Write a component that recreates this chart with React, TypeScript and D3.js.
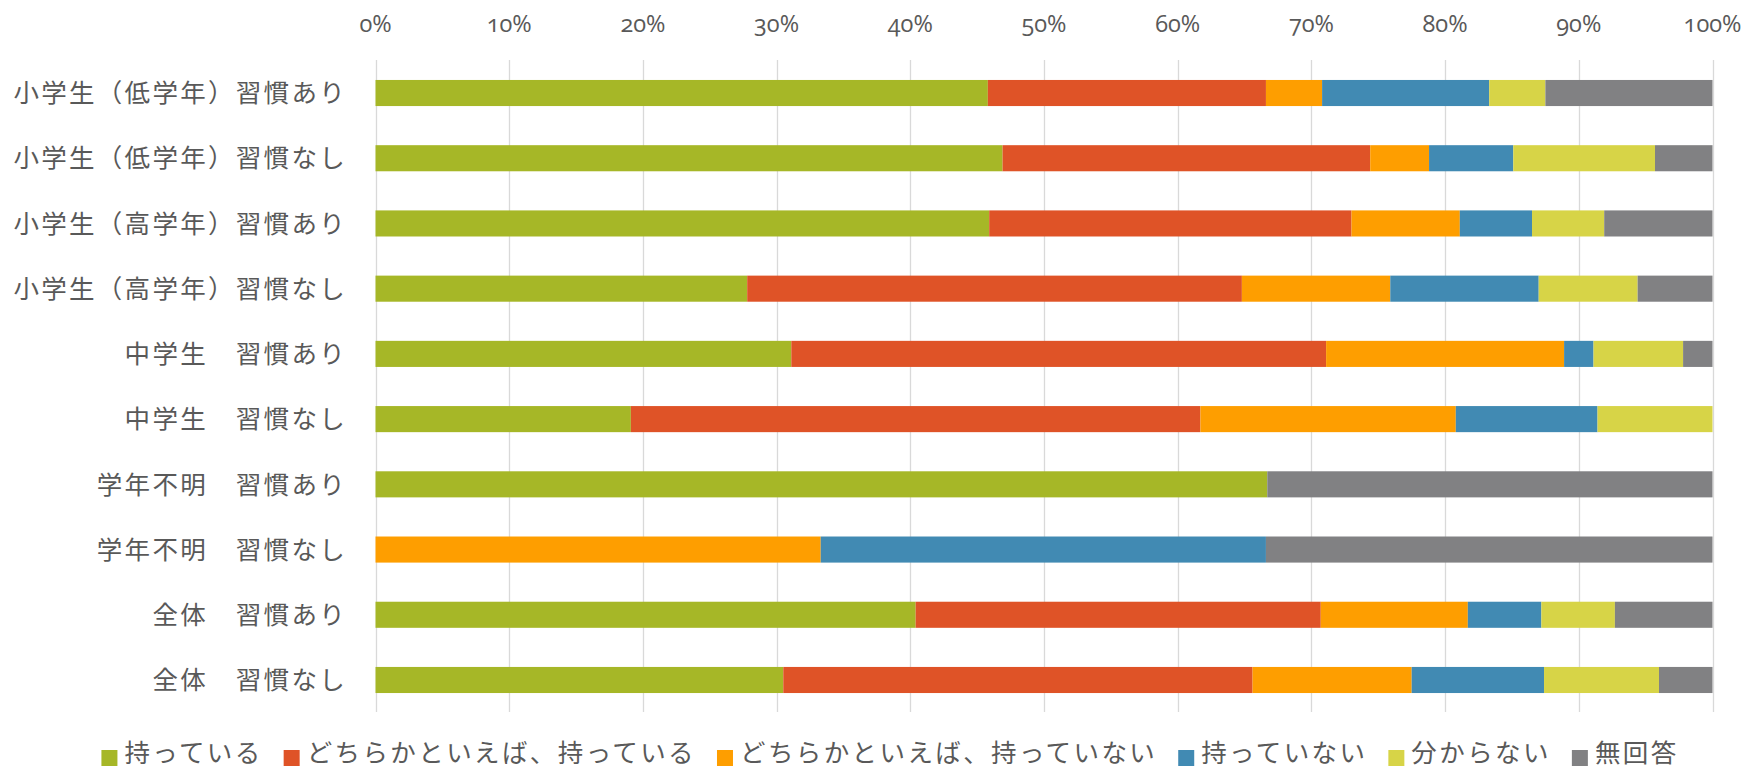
import React, { useEffect, useRef } from "react";
import * as d3 from "d3";

const categories = [
  "小学生（低学年）習慣あり",
  "小学生（低学年）習慣なし",
  "小学生（高学年）習慣あり",
  "小学生（高学年）習慣なし",
  "中学生　習慣あり",
  "中学生　習慣なし",
  "学年不明　習慣あり",
  "学年不明　習慣なし",
  "全体　習慣あり",
  "全体　習慣なし",
];

const seriesNames = [
  "持っている",
  "どちらかといえば、持っている",
  "どちらかといえば、持っていない",
  "持っていない",
  "分からない",
  "無回答",
];

const motteiru = [45.8, 46.9, 45.9, 27.8, 31.1, 19.1, 66.7, 0, 40.4, 30.5];
const dochiraMotteiru = [20.8, 27.5, 27.1, 37.0, 40.0, 42.6, 0, 0, 30.3, 35.1];
const dochiraMotteinai = [4.2, 4.4, 8.1, 11.1, 17.8, 19.1, 0, 33.3, 11.0, 11.9];
const motteinai = [12.5, 6.3, 5.4, 11.1, 2.2, 10.6, 0, 33.3, 5.5, 9.9];
const wakaranai = [4.2, 10.6, 5.4, 7.4, 6.7, 8.6, 0, 0, 5.5, 8.6];
const mukaitou = [12.5, 4.3, 8.1, 5.6, 2.2, 0, 33.3, 33.4, 7.3, 4.0];

const seriesValues = [motteiru, dochiraMotteiru, dochiraMotteinai, motteinai, wakaranai, mukaitou];
const colors = ["#A6B727", "#DF5327", "#FE9E00", "#418AB3", "#D7D447", "#818183"];
const tickValues = [0, 10, 20, 30, 40, 50, 60, 70, 80, 90, 100];

const W = 1746;
const H = 771;
const JP = "'Noto Sans CJK JP', 'Noto Sans', sans-serif";
const TXT = "#595959";

export default function App() {
  const ref = useRef<SVGSVGElement | null>(null);

  useEffect(() => {
    const svg = d3.select(ref.current);
    svg.selectAll("*").remove();

    const x = d3.scaleLinear().domain([0, 100]).range([375.5, 1712.5]);
    const y = d3
      .scaleBand<string>()
      .domain(categories)
      .range([60.4, 712.6])
      .paddingInner(0.6)
      .paddingOuter(0.3);

    const rows = categories.map((c, i) => {
      const o: any = { cat: c };
      seriesNames.forEach((s, j) => (o[s] = seriesValues[j][i]));
      return o;
    });
    const stacked = d3.stack<any>().keys(seriesNames)(rows);

    // gridlines
    svg
      .append("g")
      .selectAll("line")
      .data(tickValues)
      .join("line")
      .attr("x1", (d) => Math.round(x(d)) + 0.5)
      .attr("x2", (d) => Math.round(x(d)) + 0.5)
      .attr("y1", 60)
      .attr("y2", 712)
      .attr("stroke", "#D9D9D9")
      .attr("stroke-width", 1.3);

    // tick labels (top)
    svg
      .append("g")
      .selectAll("text")
      .data(tickValues)
      .join("text")
      .attr("x", (d) => x(d))
      .attr("y", 32)
      .attr("text-anchor", "middle")
      .attr("fill", TXT)
      .style("font-family", "'Open Sans', sans-serif")
      .style("font-size", "23.5px")
      .style("font-variant-numeric", "oldstyle-nums")
      .text((d) => `${d}%`);

    // bars
    svg
      .append("g")
      .selectAll("g")
      .data(stacked)
      .join("g")
      .attr("fill", (_d, i) => colors[i])
      .selectAll("rect")
      .data((d) => d)
      .join("rect")
      .attr("x", (d) => x(d[0]))
      .attr("width", (d) => Math.max(0, x(d[1]) - x(d[0])))
      .attr("y", (d) => y(d.data.cat)!)
      .attr("height", y.bandwidth());

    // category labels
    svg
      .append("g")
      .selectAll("text")
      .data(categories)
      .join("text")
      .attr("x", 347)
      .attr("y", (d) => y(d)! + y.bandwidth() / 2)
      .attr("dy", "0.36em")
      .attr("text-anchor", "end")
      .attr("fill", TXT)
      .style("font-family", JP)
      .style("font-size", "25.5px")
      .style("letter-spacing", "2.3px")
      .text((d) => d);

    // legend
    const lg = svg.append("g");
    const items = lg.selectAll("g").data(seriesNames).join("g");
    items
      .append("rect")
      .attr("width", 16)
      .attr("height", 16)
      .attr("y", 750)
      .attr("fill", (_d, i) => colors[i]);
    const texts = items
      .append("text")
      .attr("x", 23)
      .attr("y", 762)
      .attr("fill", TXT)
      .style("font-family", JP)
      .style("font-size", "25.5px")
      .style("letter-spacing", "2.4px")
      .text((d) => d);
    const widths: number[] = [];
    texts.each(function () {
      widths.push((this as SVGTextElement).getComputedTextLength());
    });
    const itemW = widths.map((w) => 23 + w);
    const gap = 21;
    const total = d3.sum(itemW) + gap * (itemW.length - 1);
    let cx = 890 - total / 2;
    const offs: number[] = [];
    itemW.forEach((w) => {
      offs.push(cx);
      cx += w + gap;
    });
    items.attr("transform", (_d, i) => `translate(${offs[i]},0)`);
  }, []);

  return (
    <svg
      ref={ref}
      width={W}
      height={H}
      style={{ position: "absolute", left: 0, top: 0, background: "#fff" }}
    />
  );
}
